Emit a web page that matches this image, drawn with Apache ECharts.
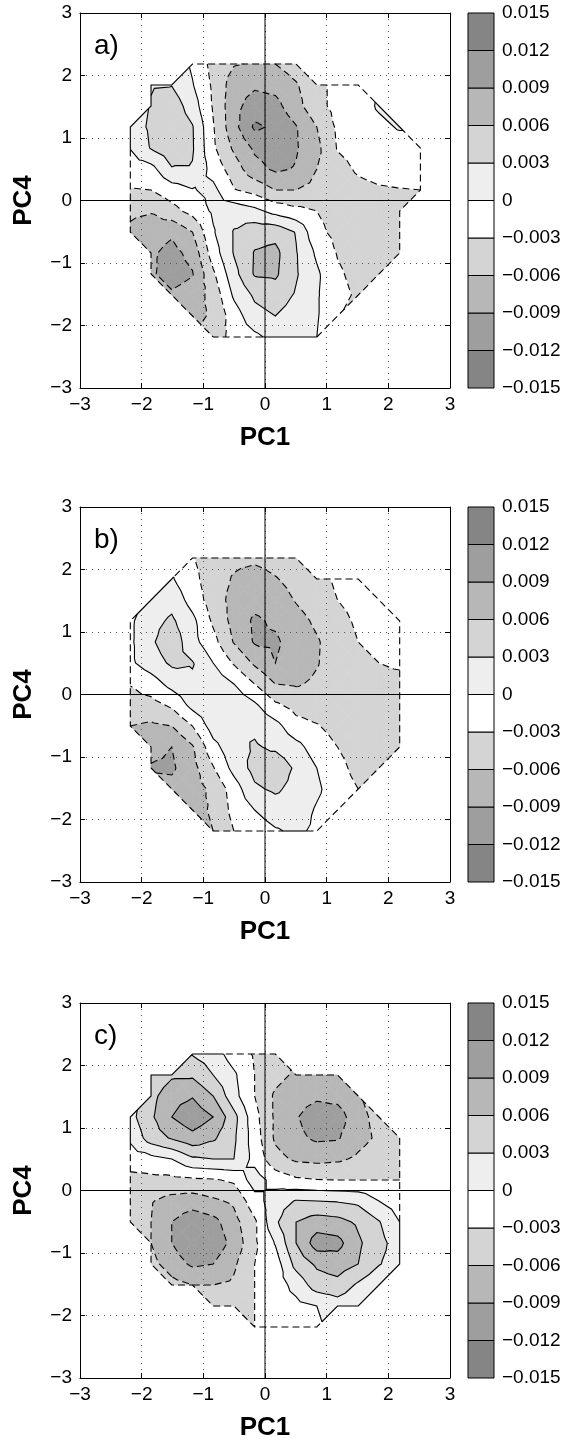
<!DOCTYPE html>
<html><head><meta charset="utf-8">
<script src="https://cdn.jsdelivr.net/npm/echarts@6/dist/echarts.min.js"></script>
<style>html,body{margin:0;padding:0;background:#fff}#chart{width:583px;height:1443px}</style>
</head><body><div id="chart"></div>
<script>
// ---------- data (values in thousandths) ----------
const pcX = [-2.184,-1.848,-1.512,-1.176,-0.84,-0.504,-0.168,0.168,0.504,0.84,1.176,1.512,1.848,2.184,2.52];
const pcY = [-2.184,-1.848,-1.512,-1.176,-0.84,-0.504,-0.168,0.168,0.504,0.84,1.176,1.512,1.848,2.184];
const valueUnit = 0.001;
const levels = [-15,-12,-9,-6,-3,0,3,6,9,12,15];
const contourLevels = [-12,-9,-6,-3,0,3,6,9,12];
const bandColors = ['#858585','#9e9e9e','#b7b7b7','#d4d4d4','#ffffff','#eeeeee','#d4d4d4','#b7b7b7','#9e9e9e','#858585'];
const axisTicks = [-3,-2,-1,0,1,2,3];
const panelLabels = ['a)','b)','c)'];
const n = null;
// rows listed from top (PC4 = 2.184) to bottom (PC4 = -2.184)
const gridA = [
 [n,n,n,-0.5,-4,-5.8,-6.2,-6.0,-4.5,n,n,n,n,n,n],
 [n,2.8,2.9,0.2,-3.5,-7.5,-8.5,-8,-6.3,-4,-2,-1.8,n,n,n],
 [n,3.2,4.8,1.5,-3.3,-8,-10.5,-10,-7,-4,-2,-1.5,0.4,n,n],
 [1.5,3.5,5.2,3.2,-2.8,-8,-12.5,-11.5,-9.2,-6,-2.5,-1.5,-0.8,0.3,n],
 [0.1,3.2,4.8,3.3,-2.5,-6.5,-9.5,-10.5,-9.3,-6.8,-2.8,-2,-1.5,-1.5,-1.5],
 [-1.4,-1.0,2.8,2.8,-1.2,-4.5,-8,-9.5,-8.8,-6,-4,-2.6,-2,-2,-2],
 [-3.2,-3.0,-1.5,-0.2,0.8,-2.8,-4,-6,-6,-5,-4.5,-3.8,-3.3,-3.1,-3],
 [-5.5,-5.8,-4,-2,0.5,1.8,0.8,-1,-2.2,-3,-4,-4.5,-4.5,-4,n],
 [-6.5,-7.5,-8.5,-6,-0.3,3.2,4.8,5,2.8,-2.3,-3.8,-4.5,-4.5,-4,n],
 [n,-8.5,-10,-8,-1.5,3.2,6.2,6.8,3.2,-0.5,-3.2,-4.5,-4.5,-4,n],
 [n,-8.5,-10.5,-9.2,-3.5,2,6.3,6.5,3.3,0.5,-2.5,-4,-4,n,n],
 [n,n,-8.5,-7.5,-5,0.5,3.5,4.5,2.7,0.3,-2,-3.5,n,n,n],
 [n,n,n,-7,-5.5,-1.5,2,3,1.8,0.3,-2.8,n,n,n,n],
 [n,n,n,n,-4.5,-2,-0.7,1,1,0,n,n,n,n,n]
];
const gridB = [
 [n,n,n,-2.8,-4.5,-5.3,-5.3,-4.8,-4,n,n,n,n,n,n],
 [n,n,0.3,-2.2,-4.5,-6.3,-7.5,-6.2,-5,-4,-2.5,-2,n,n,n],
 [n,1,2,-1.2,-4.5,-7,-8,-7.5,-5.8,-4.5,-3,-2,-1.8,n,n],
 [-0.5,2,3.5,0.8,-3.5,-7,-9.5,-8.5,-7,-5.5,-4,-2.5,-2,-2,n],
 [-0.5,2.5,5,1,-2,-6.2,-9.3,-9.5,-7.5,-6.3,-4.5,-3,-2,-2,n],
 [-0.5,1.5,3.5,3.2,0,-3.3,-6.5,-9,-7.5,-6.2,-4.5,-4,-3,-2.5,n],
 [-2.9,-1.5,1,2.5,2,0,-3,-6,-6.3,-5.5,-4.5,-4.5,-4,-4,n],
 [-4,-4,-2.5,1,2.5,2.2,0.5,-2.5,-4,-4.5,-4.5,-4.5,-4.5,-4.5,n],
 [-6,-6.5,-6,-3,1.5,2.8,2.5,1,-2,-2.8,-4,-4.5,-4.5,-4.5,n],
 [n,-8,-9,-6.3,-1,2,3.3,2.5,1,-1.5,-3,-4.5,-4.5,-4.5,n],
 [n,-9.3,-9.5,-7,-3.2,1,4,5,2.5,0,-2,-4,-4.5,n,n],
 [n,n,-8,-7,-5.5,-1.5,2.5,3.5,2,0.5,-1.5,-3,n,n,n],
 [n,n,n,-6.5,-5.8,-2,0,1.5,1.5,-0.3,-1.5,n,n,n,n],
 [n,n,n,n,-6,-3,-1.5,-0.3,0.5,-0.5,n,n,n,n,n]
];
const gridC = [
 [n,n,n,2.8,1.5,-1.5,-3.3,-4.5,n,n,n,n,n,n,n],
 [n,3.5,5.5,5.5,3,0.5,-3,-5,-6.5,-6.8,-6.2,n,n,n,n],
 [n,5,8,8.8,6,1,-3,-6.5,-8,-8.5,-8,-6.3,n,n,n],
 [2,5.5,9,11,9,4,-2,-6.5,-8.8,-10.5,-10.5,-7,-5,n,n],
 [0.5,4.5,6.3,8,6.5,3.5,-1.5,-6.5,-8.3,-9.5,-9.3,-7,-5.5,-4,n],
 [-1.5,-1,0,2.5,3,3,-1,-5,-6.5,-6.8,-6.5,-5.5,-4.3,-3.8,n],
 [-4,-3.8,-3.8,-3.5,-3.3,-2.5,1.5,-1.2,-2.5,-2.9,-3,-3,-3,-3,n],
 [-5.5,-5.8,-7,-7.5,-6.5,-5.5,-1.2,1.5,3.2,3,2.8,2.3,0,-1.5,n],
 [-5,-6,-9,-11,-10,-7,-3.5,2.5,6,7.5,7,5.5,3.2,0,n],
 [n,-6,-9,-11.5,-11,-8,-3.5,0.2,6,10.5,10,6.5,4,1.5,n],
 [n,-5,-7.5,-9.5,-9,-6.5,-3,-1.5,4,6.5,7.5,6,3.2,1.5,n],
 [n,n,-5,-6,-6,-5.5,-3,-1.5,1,4.5,5,2.5,0.5,n,n],
 [n,n,n,n,-5.5,-4.5,-3,-1.5,-0.8,0,1.5,0.5,n,n,n],
 [n,n,n,n,n,n,-3,-1.5,-1,-0.5,n,n,n,n,n]
];
const panelGrids = [gridA, gridB, gridC];

// ---------- layout ----------
const FONT = "'Liberation Sans', Arial, Helvetica, sans-serif";
const panelTops = [13, 507, 1003];
const plotLeft = 80, plotW = 370, plotH = 375;
const cbLeft = 468, cbW = 26;
const DASH = [7, 4];

// ---------- contour geometry ----------
function triangles(grid){
  const ny = pcY.length, nx = pcX.length;
  const P = (i,j) => { const v = grid[ny-1-j][i]; return v == null ? null : {x:pcX[i], y:pcY[j], v:v, id:i+'_'+j}; };
  const tris = [];
  for (let j=0;j<ny-1;j++) for (let i=0;i<nx-1;i++){
    const a=P(i,j), b=P(i+1,j), c=P(i+1,j+1), d=P(i,j+1);
    const ok=[a,b,c,d].filter(p=>p);
    if (ok.length===4){
      const m={x:(a.x+b.x)/2, y:(a.y+d.y)/2, v:(a.v+b.v+c.v+d.v)/4, id:null};
      tris.push({pts:[m,a,b], outer:[[1,2]]},{pts:[m,b,c], outer:[[1,2]]},{pts:[m,c,d], outer:[[1,2]]},{pts:[m,d,a], outer:[[1,2]]});
    } else if (ok.length===3){
      tris.push({pts:ok, outer:[[0,1],[1,2],[2,0]]});
    }
  }
  return tris;
}
function clip(poly, t, keepAbove){
  const out=[];
  for (let k=0;k<poly.length;k++){
    const a=poly[k], b=poly[(k+1)%poly.length];
    const ain = keepAbove ? a.v>=t : a.v<=t;
    const bin = keepAbove ? b.v>=t : b.v<=t;
    if (ain) out.push(a);
    if (ain!==bin){ const s=(t-a.v)/(b.v-a.v); out.push({x:a.x+s*(b.x-a.x), y:a.y+s*(b.y-a.y), v:t}); }
  }
  return out;
}
function fillPolys(tris){
  const polys=[];
  for (const t of tris){
    for (let k=0;k<bandColors.length;k++){
      const lo = k===0 ? -1e9 : levels[k];
      const hi = k===bandColors.length-1 ? 1e9 : levels[k+1];
      let p = clip(t.pts, lo, true);
      if (p.length<3) continue;
      p = clip(p, hi, false);
      if (p.length<3) continue;
      polys.push({color:bandColors[k], pts:p.map(q=>[q.x,q.y])});
    }
  }
  return polys;
}
function interp(p,q,L){
  if (p.x>q.x || (p.x===q.x && p.y>q.y)){ const t=p; p=q; q=t; }
  const s=(L-p.v)/(q.v-p.v);
  return [p.x+s*(q.x-p.x), p.y+s*(q.y-p.y)];
}
function levelSegs(tris, L){
  const segs=[];
  for (const t of tris){
    const pts=[];
    for (let k=0;k<3;k++){
      const p=t.pts[k], q=t.pts[(k+1)%3];
      if ((p.v>=L)!==(q.v>=L)) pts.push(interp(p,q,L));
    }
    if (pts.length===2 && (Math.abs(pts[0][0]-pts[1][0])+Math.abs(pts[0][1]-pts[1][1]))>1e-9) segs.push(pts);
  }
  return segs;
}
function stitch(segs){
  const key=p=>Math.round(p[0]*1e6)+'_'+Math.round(p[1]*1e6);
  const adj=new Map();
  segs.forEach((s,i)=>s.forEach(p=>{const k=key(p); if(!adj.has(k)) adj.set(k,[]); adj.get(k).push(i);}));
  const used=new Uint8Array(segs.length), out=[];
  const next=p=>{const l=adj.get(key(p))||[]; for(const i of l) if(!used[i]) return i; return -1;};
  for (let s0=0;s0<segs.length;s0++){
    if (used[s0]) continue; used[s0]=1;
    const line=[segs[s0][0],segs[s0][1]]; let i;
    while((i=next(line[line.length-1]))>=0){ used[i]=1; const s=segs[i]; line.push(key(s[0])===key(line[line.length-1])?s[1]:s[0]); }
    while((i=next(line[0]))>=0){ used[i]=1; const s=segs[i]; line.unshift(key(s[0])===key(line[0])?s[1]:s[0]); }
    out.push(line);
  }
  return out;
}
function boundaryLines(tris){
  const count=new Map(), edges=new Map();
  for (const t of tris) for (const [u,w] of t.outer){
    const p=t.pts[u], q=t.pts[w]; const k=[p.id,q.id].sort().join('|');
    count.set(k,(count.get(k)||0)+1); edges.set(k,[p,q]);
  }
  const neg=[], pos=[];
  for (const [k,c] of count){
    if (c!==1) continue;
    const [p,q]=edges.get(k);
    if ((p.v>=0)!==(q.v>=0)){
      const z=interp(p,q,0);
      (p.v<0?neg:pos).push([[p.x,p.y],z]);
      (q.v<0?neg:pos).push([z,[q.x,q.y]]);
    } else ((p.v+q.v)/2<0?neg:pos).push([[p.x,p.y],[q.x,q.y]]);
  }
  return {neg:stitch(neg), pos:stitch(pos)};
}

// ---------- option ----------
const fmtTick = v => v<0 ? '\u2212'+Math.abs(v) : String(v);
const fmtBar = v => { const r=Math.round(v); if (r===0) return '0'; const s=(Math.abs(r)*valueUnit).toFixed(3); return r<0 ? '\u2212'+s : s; };
const grids=[], xAxes=[], yAxes=[], series=[], graphics=[];
const baseAxis = {type:'value', min:axisTicks[0], max:axisTicks[axisTicks.length-1], interval:1, z:3,
  axisLine:{show:true, onZero:false, lineStyle:{color:'#000', width:1}},
  axisTick:{show:true, inside:true, length:5, lineStyle:{color:'#000', width:1}}};

panelGrids.forEach((grid,p)=>{
  const top=panelTops[p];
  const tris=triangles(grid);
  const fills=fillPolys(tris);
  const lines=[];
  contourLevels.forEach(L=>{ stitch(levelSegs(tris,L)).forEach(l=>lines.push({pts:l, dash:L<0})); });
  const bd=boundaryLines(tris);
  bd.neg.forEach(l=>lines.push({pts:l, dash:true}));
  bd.pos.forEach(l=>lines.push({pts:l, dash:false}));

  grids.push({left:plotLeft, top:top, width:plotW, height:plotH, show:false});
  const gi=grids.length-1;
  const xi=xAxes.length, yi=yAxes.length;
  xAxes.push(Object.assign({}, baseAxis, {gridIndex:gi, position:'bottom',
    axisLabel:{show:true, margin:7, color:'#000', fontSize:19, fontFamily:FONT, formatter:fmtTick},
    splitLine:{show:true, lineStyle:{color:'#555', type:[1,5], width:1}},
    name:'PC1', nameLocation:'middle', nameGap:37,
    nameTextStyle:{color:'#000', fontSize:26, fontWeight:'bold', fontFamily:FONT}}));
  xAxes.push(Object.assign({}, baseAxis, {gridIndex:gi, position:'top', axisLabel:{show:false}, splitLine:{show:false}}));
  yAxes.push(Object.assign({}, baseAxis, {gridIndex:gi, position:'left',
    axisLabel:{show:true, margin:8, color:'#000', fontSize:19, fontFamily:FONT, formatter:fmtTick},
    splitLine:{show:true, lineStyle:{color:'#555', type:[1,5], width:1}},
    name:'PC4', nameLocation:'middle', nameGap:43, nameRotate:90,
    nameTextStyle:{color:'#000', fontSize:26, fontWeight:'bold', fontFamily:FONT}}));
  yAxes.push(Object.assign({}, baseAxis, {gridIndex:gi, position:'right', axisLabel:{show:false}, splitLine:{show:false}}));

  series.push({type:'custom', coordinateSystem:'cartesian2d', xAxisIndex:xi, yAxisIndex:yi, z:2, silent:true, clip:false,
    data:[[0,0]],
    renderItem:(params,api)=>({type:'group', children: fills.map(f=>({type:'polygon', shape:{points:f.pts.map(q=>api.coord(q))},
      style:{fill:f.color, stroke:f.color, lineWidth:0.7}}))})});
  series.push({type:'custom', coordinateSystem:'cartesian2d', xAxisIndex:xi, yAxisIndex:yi, z:4, silent:true, clip:false,
    data:[[0,0]],
    renderItem:(params,api)=>({type:'group', children: lines.map(l=>({type:'polyline', shape:{points:l.pts.map(q=>api.coord(q))},
        style:{stroke:'#000', lineWidth:1.1, fill:'none', lineDash:l.dash?DASH:null}}))})});
  // zero cross-hair lines
  series.push({type:'custom', coordinateSystem:'cartesian2d', xAxisIndex:xi, yAxisIndex:yi, z:5, silent:true, clip:false,
    data:[[-3,0,3,0],[0,-3,0,3]],
    renderItem:(params,api)=>{
      const a=api.coord([api.value(0),api.value(1)]), b=api.coord([api.value(2),api.value(3)]);
      return {type:'line', shape:{x1:a[0],y1:a[1],x2:b[0],y2:b[1]}, style:{stroke:'#000', lineWidth:1, fill:'none'}};
    }});

  // colorbar
  grids.push({left:cbLeft, top:top, width:cbW, height:plotH, show:false});
  const cg=grids.length-1, cx=xAxes.length, cy=yAxes.length;
  xAxes.push({gridIndex:cg, type:'value', min:0, max:1, show:false});
  yAxes.push({gridIndex:cg, type:'value', min:levels[0], max:levels[levels.length-1], interval:3, position:'right',
    axisLine:{show:false}, axisTick:{show:false}, splitLine:{show:false},
    axisLabel:{show:true, margin:8, color:'#000', fontSize:19, fontFamily:FONT, formatter:fmtBar}});
  series.push({type:'custom', coordinateSystem:'cartesian2d', xAxisIndex:cx, yAxisIndex:cy, z:2, silent:true, clip:false,
    data:bandColors.map((c,k)=>[0, levels[k]]),
    renderItem:(params,api)=>{
      const k=params.dataIndex;
      const a=api.coord([0, levels[k+1]]), b=api.coord([1, levels[k]]);
      return {type:'rect', shape:{x:a[0], y:a[1], width:b[0]-a[0], height:b[1]-a[1]},
        style:{fill:bandColors[k], stroke:'#000', lineWidth:1}};
    }});

  graphics.push({type:'text', left:94, top:top+19, style:{text:panelLabels[p], font:'28px '+FONT, fill:'#000'}});
});

const chart = echarts.init(document.getElementById('chart'), null, {renderer:'canvas'});
chart.setOption({animation:false, backgroundColor:'#fff', grid:grids, xAxis:xAxes, yAxis:yAxes, series:series, graphic:graphics});
</script></body></html>
